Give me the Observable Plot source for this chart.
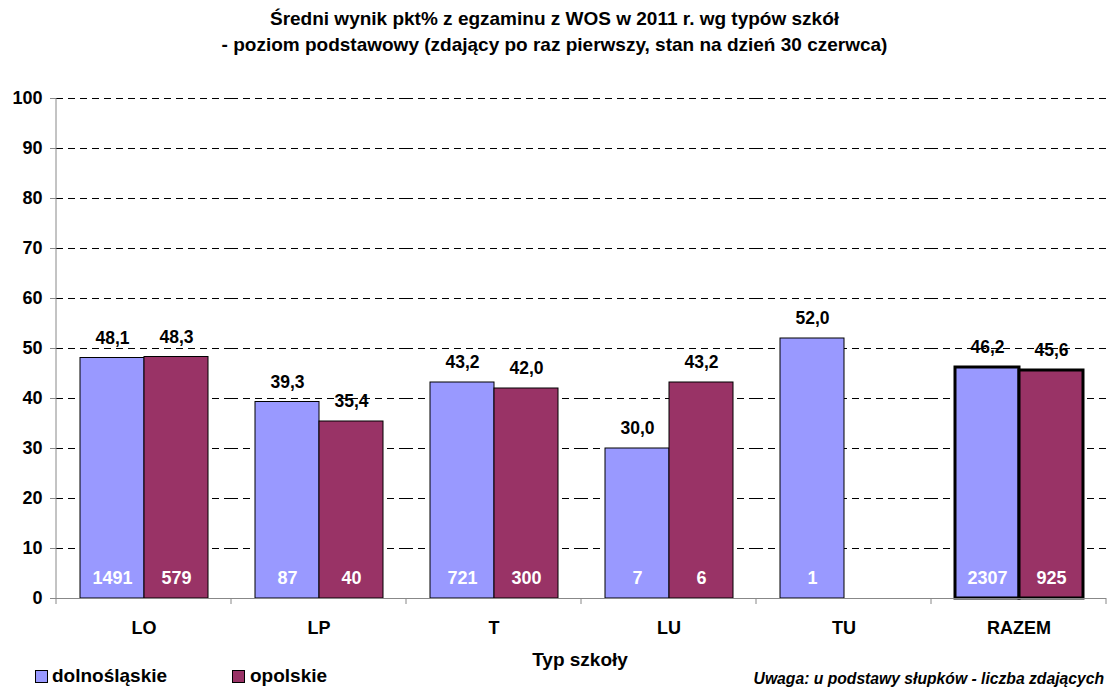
<!DOCTYPE html>
<html>
<head>
<meta charset="utf-8">
<script src="https://cdn.jsdelivr.net/npm/d3@7"></script>
<script src="https://cdn.jsdelivr.net/npm/@observablehq/plot@0.6"></script>
<style>
  body { margin: 0; background: #fff; font-family: "Liberation Sans", Arial, sans-serif; }
  #wrap { position: relative; width: 1109px; height: 691px; overflow: hidden; }
  .abs { position: absolute; font-weight: bold; color: #000; white-space: nowrap; }
  #title { left: 0; width: 1109px; top: 6px; text-align: center; font-size: 19px; line-height: 26px; }
  #chart { position: absolute; left: 0; top: 70px; }
  #xtitle { left: 0; width: 1160px; top: 649px; text-align: center; font-size: 19px; }
  .sw { position: absolute; width: 11px; height: 11px; border: 1px solid #000; }
  .lg { font-size: 19px; top: 665px; }
  #note { right: 5px; top: 670px; font-size: 15.7px; font-style: italic; }
</style>
</head>
<body>
<div id="wrap">
  <div id="title" class="abs">Średni wynik pkt% z egzaminu z WOS w 2011 r. wg typów szkół<br>- poziom podstawowy (zdający po raz pierwszy, stan na dzień 30 czerwca)</div>
  <div id="chart"></div>
  <div id="xtitle" class="abs">Typ szkoły</div>
  <div class="sw" style="left:35px; top:670px; background:#9999FF"></div>
  <div class="abs lg" style="left:52px">dolnośląskie</div>
  <div class="sw" style="left:232px; top:670px; background:#993366"></div>
  <div class="abs lg" style="left:250px">opolskie</div>
  <div id="note" class="abs">Uwaga: u podstawy słupków - liczba zdających</div>
</div>
<script>
const categories = ["LO", "LP", "T", "LU", "TU", "RAZEM"];
const series = ["dolnośląskie", "opolskie"];
const colors = ["#9999FF", "#993366"];
const dolnoslaskie = [48.1, 39.3, 43.2, 30.0, 52.0, 46.2];
const opolskie = [48.3, 35.4, 42.0, 43.2, null, 45.6];
const countsDolno = [1491, 87, 721, 7, 1, 2307];
const countsOpol = [579, 40, 300, 6, null, 925];
const yTicks = [0, 10, 20, 30, 40, 50, 60, 70, 80, 90, 100];
const gridTicks = [10, 20, 30, 40, 50, 60, 70, 80, 90, 100];

const data = [];
categories.forEach((c, i) => {
  if (dolnoslaskie[i] != null) data.push({cat: c, series: series[0], value: dolnoslaskie[i], n: countsDolno[i]});
  if (opolskie[i] != null) data.push({cat: c, series: series[1], value: opolskie[i], n: countsOpol[i]});
});
const fmt = v => d3.format(".1f")(v).replace(".", ",");
const isTotal = d => d.cat === "RAZEM";

const plot = Plot.plot({
  width: 1109,
  height: 600,
  marginLeft: 55,
  marginRight: 3,
  marginTop: 28,
  marginBottom: 72,
  style: {fontFamily: "Liberation Sans, Arial, sans-serif", fontSize: "16px", fontWeight: "bold", color: "#000", background: "#fff"},
  fx: {domain: categories, padding: 0, axis: null},
  x: {domain: series, paddingInner: 0, paddingOuter: 0.358, axis: null},
  y: {domain: [0, 100], axis: null},
  color: {domain: series, range: colors},
  marks: [
    Plot.ruleY(gridTicks, {stroke: "#000", strokeWidth: 1, strokeDasharray: "7,5"}),
    Plot.barY(data.filter(d => !isTotal(d)), {fx: "cat", x: "series", y: "value", fill: "series", stroke: "#000", strokeWidth: 1}),
    Plot.barY(data.filter(isTotal), {fx: "cat", x: "series", y: "value", fill: "series", stroke: "#000", strokeWidth: 3}),
    Plot.ruleY([0], {stroke: "#888", strokeWidth: 1}),
    Plot.axisY({ticks: yTicks, tickSize: 6, tickPadding: 8, fontSize: 18, fontWeight: "bold", label: null, stroke: "#888", strokeOpacity: 1}),
    Plot.text(data, {fx: "cat", x: "series", y: "value", text: d => fmt(d.value), dy: -20, fontSize: 17.5, fontWeight: "bold", fill: "#000"}),
    Plot.text(data, {fx: "cat", x: "series", y: 0, text: d => String(d.n), dy: -20, fontSize: 18, fontWeight: "bold", fill: "#fff"}),
    Plot.text(categories, {fx: d => d, frameAnchor: "bottom", lineAnchor: "middle", dy: 30, fontSize: 18, fontWeight: "bold", fill: "#000"})
  ]
});
document.getElementById("chart").appendChild(plot);

// axis line and category-boundary ticks, positioned through Plot's own scales
const fxS = plot.scale("fx");
const yS = plot.scale("y");
const svg = d3.select(plot.tagName.toLowerCase() === "svg" ? plot : plot.querySelector("svg"));
const y0 = yS.apply(0), y100 = yS.apply(100);
const bounds = categories.map(c => fxS.apply(c)).concat([fxS.apply(categories[categories.length - 1]) + fxS.bandwidth]);
const g = svg.append("g").attr("stroke", "#888").attr("stroke-width", 1);
bounds.forEach(x => g.append("line").attr("x1", x).attr("x2", x).attr("y1", y0).attr("y2", y0 + 6));
g.append("line").attr("x1", bounds[0]).attr("x2", bounds[0]).attr("y1", y0).attr("y2", y100);
</script>
</body>
</html>
